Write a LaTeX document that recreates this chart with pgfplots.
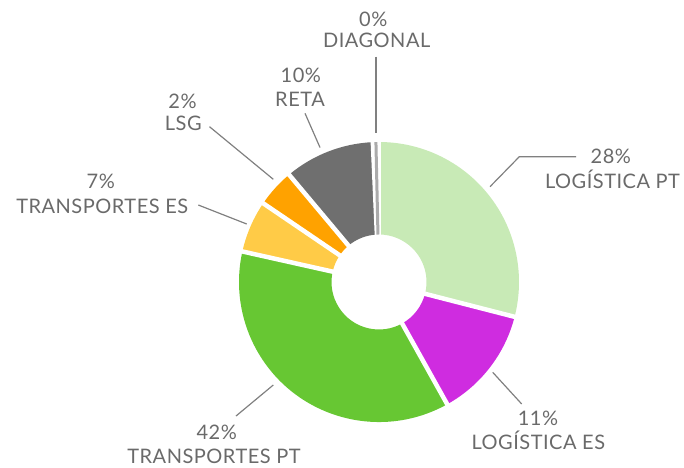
\documentclass[border=0pt]{standalone}
\usepackage{fontspec}
\setmainfont{Lato}[LetterSpace=2.5]
\usepackage{pgfplots}
\usepackage{pgfplotstable}
\pgfplotsset{compat=1.18}
\usetikzlibrary{calc}

\definecolor{cLPT}{HTML}{C8EAB6}
\definecolor{cLES}{HTML}{CF2CE0}
\definecolor{cTPT}{HTML}{67C733}
\definecolor{cTES}{HTML}{FFCB47}
\definecolor{cLSG}{HTML}{FFA200}
\definecolor{cRETA}{HTML}{6F6F6F}
\definecolor{cDIAG}{HTML}{ABABAB}
\definecolor{txt}{HTML}{6A6A6A}
\definecolor{lead}{HTML}{808080}

\tikzset{lbl/.style={anchor=base, inner sep=0pt, font=\fontsize{20}{22}\selectfont, text=txt}}

% share of each slice (percent of the full circle), clockwise from the top
\pgfplotstableread{
pct col
29.0 cLPT
12.9 cLES
36.6 cTPT
6.0 cTES
4.4 cLSG
10.4 cRETA
0.7 cDIAG
}\piedata

\newcommand\rin{47.5pt}
\newcommand\rout{140pt}
\newcommand\slice[3]{\fill[#1] ($(C)+(#2:\rin)$) -- ($(C)+(#2:\rout)$) arc[start angle=#2,end angle=#3,radius=\rout] -- ($(C)+(#3:\rin)$) arc[start angle=#3,end angle=#2,radius=\rin] -- cycle;}
\newcommand\sep[1]{\draw[white,line width=4.5pt] ($(C)+(#1:43pt)$) -- ($(C)+(#1:145pt)$);}
\newcommand\sliv[2]{\draw[#1,line width=3pt] ($(C)+(#2:\rin)$) -- ($(C)+(#2:\rout)$);}

\begin{document}
\begin{tikzpicture}
\begin{axis}[x=1pt,y=1pt,xmin=0,xmax=684,ymin=0,ymax=467,hide axis,clip=false]
\coordinate (C) at (axis cs:379,185);
\def\angA{90}
\def\seps{}
\def\slivs{}
\pgfplotsforeachungrouped \i in {0,...,6}{%
  \pgfplotstablegetelem{\i}{pct}\of\piedata \let\pv=\pgfplotsretval
  \pgfplotstablegetelem{\i}{col}\of\piedata \let\cv=\pgfplotsretval
  \pgfmathsetmacro\angB{\angA-3.6*\pv}%
  \pgfmathsetmacro\angM{\angA-1.8*\pv}%
  \edef\tmp{\noexpand\slice{\cv}{\angA}{\angB}}\tmp
  \edef\seps{\unexpanded\expandafter{\seps}\noexpand\sep{\angB}}%
  \pgfmathparse{\pv<2?1:0}%
  \ifdim\pgfmathresult pt>0.5pt
    \edef\slivs{\unexpanded\expandafter{\slivs}\noexpand\sliv{\cv}{\angM}}%
  \fi
  \let\angA=\angB
}
\seps
\slivs

% leader lines
\draw[lead,line width=1.2pt] (axis cs:376,410.3) -- (axis cs:376,333.7);
\draw[lead,line width=1.2pt] (axis cs:305,353.7) -- (axis cs:320,319.5);
\draw[lead,line width=1.2pt] (axis cs:209.5,340.3) -- (axis cs:273.3,287.7);
\draw[lead,line width=1.2pt] (axis cs:198.3,262) -- (axis cs:246.7,243);
\draw[lead,line width=1.2pt] (axis cs:490,280.3) -- (axis cs:519.3,310.3) -- (axis cs:576,310.3);
\draw[lead,line width=1.2pt] (axis cs:492.7,94.7) -- (axis cs:521.7,63);
\draw[lead,line width=1.2pt] (axis cs:273.3,82) -- (axis cs:236,51);

% labels
\node[lbl] at (axis cs:373.3,440.3) {0\%};
\node[lbl] at (axis cs:376.7,419.3) {DIAGONAL};
\node[lbl] at (axis cs:300.8,384.3) {10\%};
\node[lbl] at (axis cs:300,361) {RETA};
\node[lbl] at (axis cs:182.5,358.7) {2\%};
\node[lbl] at (axis cs:183.3,337) {LSG};
\node[lbl] at (axis cs:100.8,278.7) {7\%};
\node[lbl] at (axis cs:102.2,253.7) {TRANSPORTES ES};
\node[lbl] at (axis cs:610.8,303.7) {28\%};
\node[lbl] at (axis cs:612.5,278.7) {LOGÍSTICA PT};
\node[lbl] at (axis cs:538,42) {11\%};
\node[lbl] at (axis cs:538.3,18) {LOGÍSTICA ES};
\node[lbl] at (axis cs:216.7,28) {42\%};
\node[lbl] at (axis cs:214,4) {TRANSPORTES PT};
\end{axis}
\pgfresetboundingbox
\path (current axis.south west) rectangle (current axis.north east);
\end{tikzpicture}
\end{document}
